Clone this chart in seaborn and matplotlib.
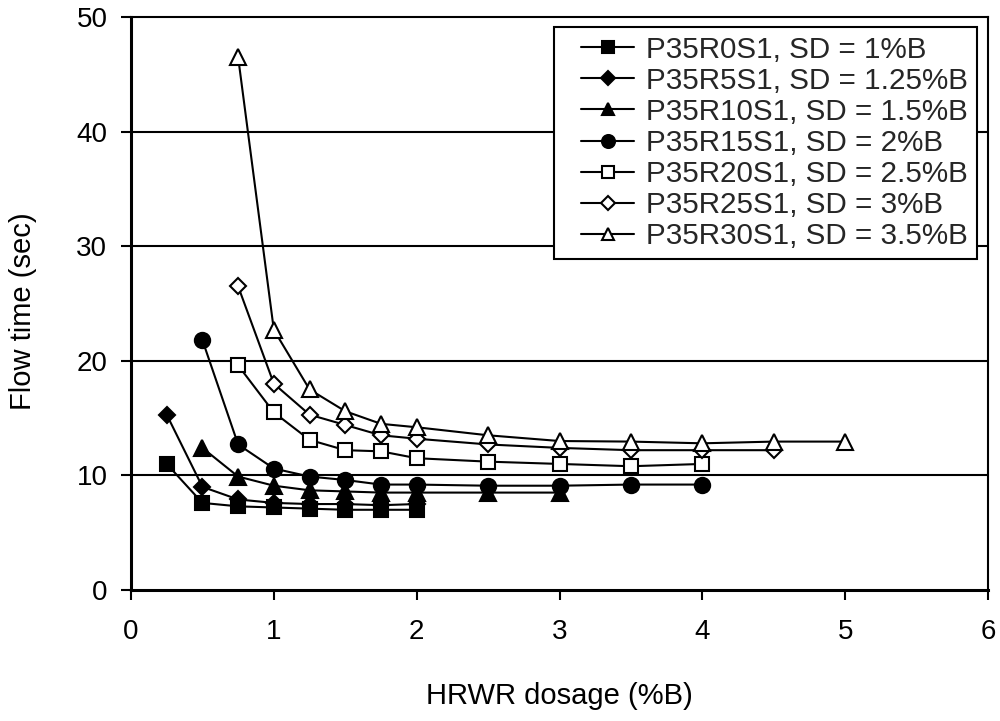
import matplotlib
matplotlib.use("Agg")
import matplotlib.pyplot as plt
from matplotlib.lines import Line2D
from matplotlib.legend_handler import HandlerLine2D
import seaborn as sns
import pandas as pd

# ---- data ----
labels = [
    "P35R0S1, SD = 1%B",
    "P35R5S1, SD = 1.25%B",
    "P35R10S1, SD = 1.5%B",
    "P35R15S1, SD = 2%B",
    "P35R20S1, SD = 2.5%B",
    "P35R25S1, SD = 3%B",
    "P35R30S1, SD = 3.5%B",
]

x_r0 = [0.25, 0.5, 0.75, 1.0, 1.25, 1.5, 1.75, 2.0]
y_r0 = [11.0, 7.6, 7.3, 7.2, 7.1, 7.0, 7.0, 7.0]

x_r5 = [0.25, 0.5, 0.75, 1.0, 1.25, 1.5, 1.75, 2.0]
y_r5 = [15.3, 9.0, 7.9, 7.6, 7.5, 7.5, 7.4, 7.5]

x_r10 = [0.5, 0.75, 1.0, 1.25, 1.5, 1.75, 2.0, 2.5, 3.0]
y_r10 = [12.4, 9.9, 9.1, 8.7, 8.6, 8.5, 8.5, 8.5, 8.5]

x_r15 = [0.5, 0.75, 1.0, 1.25, 1.5, 1.75, 2.0, 2.5, 3.0, 3.5, 4.0]
y_r15 = [21.8, 12.7, 10.6, 9.9, 9.6, 9.2, 9.2, 9.1, 9.1, 9.2, 9.2]

x_r20 = [0.75, 1.0, 1.25, 1.5, 1.75, 2.0, 2.5, 3.0, 3.5, 4.0]
y_r20 = [19.6, 15.5, 13.1, 12.2, 12.1, 11.5, 11.2, 11.0, 10.8, 11.0]

x_r25 = [0.75, 1.0, 1.25, 1.5, 1.75, 2.0, 2.5, 3.0, 3.5, 4.0, 4.5]
y_r25 = [26.5, 18.0, 15.3, 14.4, 13.5, 13.2, 12.7, 12.4, 12.2, 12.2, 12.2]

x_r30 = [0.75, 1.0, 1.25, 1.5, 1.75, 2.0, 2.5, 3.0, 3.5, 4.0, 4.5, 5.0]
y_r30 = [46.5, 22.7, 17.5, 15.6, 14.5, 14.2, 13.5, 13.0, 12.95, 12.8, 12.95, 12.95]

xs = [x_r0, x_r5, x_r10, x_r15, x_r20, x_r25, x_r30]
ys = [y_r0, y_r5, y_r10, y_r15, y_r20, y_r25, y_r30]

x_ticks = [0, 1, 2, 3, 4, 5, 6]
y_ticks = [0, 10, 20, 30, 40, 50]

# ---- styles ----
markers = ["s", "D", "^", "o", "s", "D", "^"]
filled = [True, True, True, True, False, False, False]
msizes = [10, 8.5, 11, 11, 10, 8.5, 11]

sns.set_theme(style="white")
plt.rcParams["font.family"] = ["Liberation Sans", "DejaVu Sans"]

fig = plt.figure(figsize=(10, 7.21), dpi=100)
ax = fig.add_axes([0.131, 1 - 590 / 721, 0.857, 573 / 721])

for lab, xv, yv, mk, fl, ms in zip(labels, xs, ys, markers, filled, msizes):
    df = pd.DataFrame({"x": xv, "y": yv})
    sns.lineplot(
        data=df, x="x", y="y", ax=ax, color="black", linewidth=1.5,
        marker=mk, markersize=ms,
        markerfacecolor="black" if fl else "white",
        markeredgecolor="black", markeredgewidth=1.5,
        label=lab, legend=False, zorder=3,
    )

ax.set_xlim(0, 6)
ax.set_ylim(0, 50)
ax.set_xticks(x_ticks)
ax.set_yticks(y_ticks)
ax.set_xticklabels([str(t) for t in x_ticks])
ax.set_yticklabels([str(t) for t in y_ticks])

for yv in y_ticks[1:-1]:
    ax.axhline(yv, color="black", linewidth=1.5, zorder=1)

for side in ["left", "bottom"]:
    ax.spines[side].set_linewidth(2.2)
    ax.spines[side].set_color("black")
for side in ["top", "right"]:
    ax.spines[side].set_linewidth(1.5)
    ax.spines[side].set_color("black")

ax.tick_params(axis="both", direction="out", length=7, width=1.5, color="black",
               labelsize=20, labelcolor="black")
ax.tick_params(axis="x", pad=14, bottom=True)
ax.tick_params(axis="y", pad=10, left=True)

ax.set_xlabel("HRWR dosage (%B)", fontsize=21, color="black")
ax.set_ylabel("Flow time (sec)", fontsize=21, color="black")
ax.xaxis.set_label_coords(0.5, -0.161)
ax.yaxis.set_label_coords(-0.110, 0.487)

handles, labs = ax.get_legend_handles_labels()
leg = ax.legend(handles, labs, loc="upper right", bbox_to_anchor=(0.987, 0.983),
                borderaxespad=0, fontsize=21.3, frameon=True, fancybox=False,
                edgecolor="black", framealpha=1, handlelength=2.4,
                handletextpad=0.4, labelspacing=0.105, borderpad=0.3,
                markerscale=0.85,
                handler_map={Line2D: HandlerLine2D(xpad=0.6)})
leg.get_frame().set_linewidth(1.5)
leg.set_zorder(5)

fig.savefig("out.png", dpi=100, facecolor="white")
